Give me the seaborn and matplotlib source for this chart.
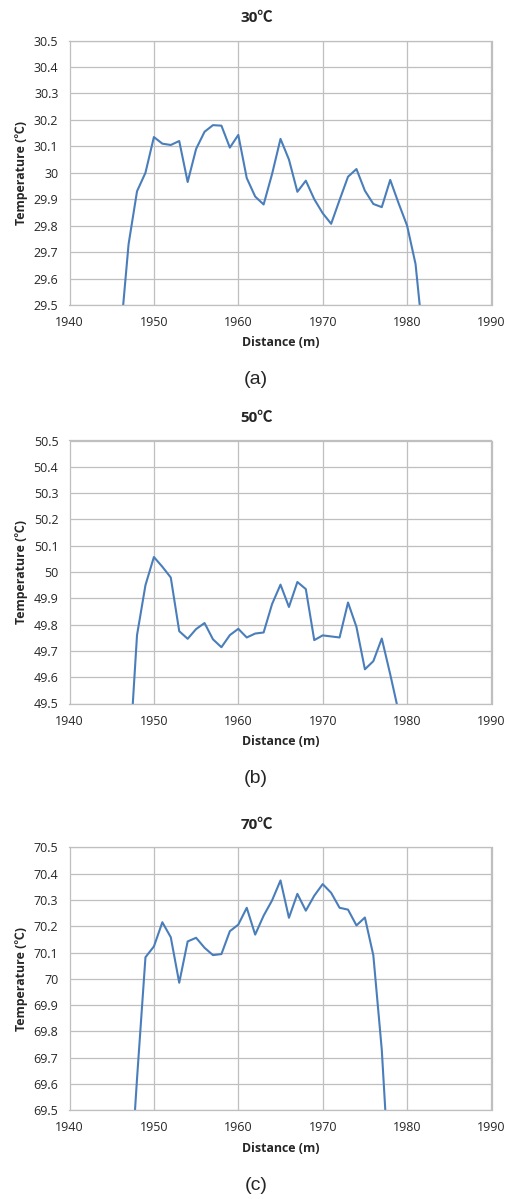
import matplotlib
matplotlib.use("Agg")
import matplotlib.pyplot as plt
import seaborn as sns
import pandas as pd

sns.set_style("white")
plt.rcParams['font.family'] = ['Open Sans', 'Noto Sans CJK KR', 'DejaVu Sans']

# --- data ---
years_a = list(range(1946, 1983))
temp_a = [29.37, 29.73, 29.93, 30.00, 30.135, 30.11, 30.105, 30.12, 29.965, 30.09,
          30.155, 30.18, 30.178, 30.095, 30.143, 29.98, 29.91, 29.88, 29.995, 30.128,
          30.05, 29.928, 29.97, 29.90, 29.847, 29.807, 29.897, 29.985, 30.014, 29.932,
          29.882, 29.87, 29.973, 29.884, 29.80, 29.655, 29.34]

years_b = list(range(1947, 1980))
temp_b = [49.24, 49.76, 49.95, 50.057, 50.02, 49.979, 49.775, 49.746, 49.783, 49.806,
          49.744, 49.714, 49.76, 49.784, 49.751, 49.766, 49.77, 49.878, 49.952, 49.867,
          49.962, 49.935, 49.741, 49.759, 49.755, 49.751, 49.884, 49.791, 49.63, 49.661,
          49.747, 49.611, 49.467]

years_c = list(range(1947, 1979))
temp_c = [69.12, 69.62, 70.082, 70.123, 70.215, 70.158, 69.985, 70.142, 70.156, 70.118,
          70.09, 70.094, 70.181, 70.206, 70.27, 70.168, 70.24, 70.298, 70.374, 70.232,
          70.323, 70.259, 70.316, 70.36, 70.327, 70.27, 70.263, 70.203, 70.233, 70.089,
          69.73, 69.18]

titles = ["30℃", "50℃", "70℃"]
captions = ["(a)", "(b)", "(c)"]
y_bases = [29.5, 49.5, 69.5]
x_ticks = [1940, 1950, 1960, 1970, 1980, 1990]

W, H = 511, 1199
fig = plt.figure(figsize=(W / 100, H / 100), dpi=100)

GRID = "#bfbfbf"
LINE = "#4a7ebb"

# pixel layout: (top, bottom) of each plot area
panels = [(40.5, 305.0), (440.5, 703.5), (847.3, 1110.3)]
left, right = 69.5, 491.5

series = [(years_a, temp_a), (years_b, temp_b), (years_c, temp_c)]

for i, ((top, bot), (xs, ys)) in enumerate(zip(panels, series)):
    ax = fig.add_axes([left / W, 1 - bot / H, (right - left) / W, (bot - top) / H])
    df = pd.DataFrame({"Distance": xs, "Temp": ys})
    sns.lineplot(data=df, x="Distance", y="Temp", ax=ax, color=LINE, linewidth=1.5)

    base = y_bases[i]
    yt = [round(base + k * 0.1, 1) for k in range(11)]
    ax.set_xlim(1940, 1990)
    ax.set_ylim(base, base + 1.0)
    ax.set_xticks(x_ticks)
    ax.set_yticks(yt)
    ax.set_yticklabels([f"{v:g}" for v in yt])
    ax.grid(True, color=GRID, linewidth=0.9)
    ax.set_axisbelow(True)
    for s in ax.spines.values():
        s.set_color(GRID)
        s.set_linewidth(0.9)
    ax.tick_params(axis="x", direction="out", length=4, color=GRID, width=0.9,
                   labelsize=9, pad=4, labelcolor="#262626")
    ax.tick_params(axis="y", direction="out", length=2, color=GRID, width=0.9,
                   labelsize=9, pad=6, labelcolor="#262626")
    ax.set_xlabel("")
    ax.set_ylabel("")

    fig.text(257 / W, 1 - (top - 22.5) / H, titles[i],
             ha="center", va="center", fontsize=11, fontweight="bold")
    fig.text(22 / W, 1 - (top + bot) / 2 / H, "Temperature (℃)", rotation=90,
             ha="center", va="center", fontsize=8.9, fontweight="bold")
    fig.text((left + right) / 2 / W, 1 - (bot + 38) / H, "Distance (m)",
             ha="center", va="center", fontsize=8.9, fontweight="bold")
    fig.text(256 / W, 1 - (bot + 75) / H, captions[i],
             ha="center", va="center", fontsize=14, family=["Liberation Sans", "DejaVu Sans"])

fig.savefig("out.png", dpi=100)
